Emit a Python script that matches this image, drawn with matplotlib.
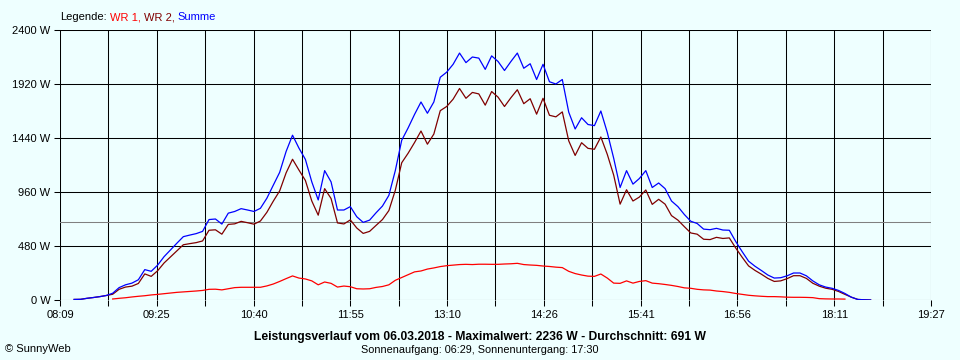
import matplotlib
matplotlib.use('Agg')
import matplotlib.pyplot as plt
import numpy as np

plt.rcParams['font.family'] = ['Liberation Sans', 'DejaVu Sans']

nan = np.nan

# Messwerte in W, alle 5 Minuten ab 08:20
start_min = 8 * 60 + 20
step_min = 5

summe = [
    5, 6, 15, 22, 30, 40, 60, 110,                                      # 08:20-08:55
    135, 150, 180, 270, 255, 310, 385, 445, 505, 563, 577, 590,         # 09
    610, 715, 720, 675, 772, 787, 812, 800, 787, 815, 904, 1020,        # 10
    1135, 1320, 1465, 1350, 1250, 1050, 889, 1150, 1050, 800, 800, 830, # 11
    740, 690, 710, 775, 835, 930, 1150, 1420, 1530, 1650, 1760, 1660,   # 12
    1760, 1980, 2025, 2095, 2195, 2110, 2160, 2150, 2050, 2170, 2120, 2040,  # 13
    2120, 2195, 2060, 2100, 1960, 2095, 1940, 1920, 1960, 1670, 1520, 1620,  # 14
    1560, 1550, 1680, 1490, 1260, 1000, 1150, 1030, 1080, 1150, 1000, 1040,  # 15
    990, 880, 830, 760, 700, 680, 630, 625, 637, 622, 620, 520,         # 16
    430, 345, 300, 262, 222, 195, 198, 215, 240, 240, 215, 170,         # 17
    135, 115, 104, 85, 58, 25, 5, 2, 0,                                 # 18:00-18:40
]

wr1 = [
    nan, nan, nan, nan, nan, nan, 9, 15,
    20, 27, 33, 38, 45, 50, 56, 62, 68, 72, 76, 80,
    85, 95, 96, 90, 100, 110, 113, 113, 113, 113, 125, 142,
    165, 190, 214, 195, 187, 170, 135, 160, 148, 115, 124, 118,
    100, 98, 100, 112, 120, 135, 175, 200, 225, 250, 258, 275,
    285, 297, 305, 310, 315, 317, 315, 318, 318, 317, 317, 320,
    322, 326, 315, 311, 308, 302, 298, 292, 288, 255, 235, 222,
    212, 210, 231, 195, 150, 148, 170, 150, 165, 172, 150, 145,
    138, 130, 120, 108, 104, 95, 90, 88, 80, 75, 68, 58,
    50, 42, 37, 33, 30, 30, 28, 25, 24, 24, 23, 21,
    12, 10, 9, 9, 8, nan, nan, nan, nan,
]

summe = np.array(summe, dtype=float)
wr1 = np.array(wr1, dtype=float)
wr2 = np.clip(summe - np.nan_to_num(wr1), 0, None)
t = start_min + step_min * np.arange(len(summe))

zeit_labels = ['08:09', '09:25', '10:40', '11:55', '13:10', '14:26', '15:41', '16:56', '18:11', '19:27']
maximalwert = 2236
durchschnitt = 691
datum = '06.03.2018'
sonnenaufgang = '06:29'
sonnenuntergang = '17:30'

x_min = 8 * 60 + 9
x_max = 19 * 60 + 27

bg = '#eeffff'
fig = plt.figure(figsize=(9.6, 3.6), dpi=100, facecolor=bg)
ax = fig.add_axes([60 / 960, 60 / 360, 871 / 960, 270 / 360], facecolor=bg)

xt = np.linspace(x_min, x_max, 19)
yt = np.arange(0, 2401, 480)
for x in xt:
    ax.axvline(x, color='black', lw=0.75, zorder=1, snap=True)
for y in yt:
    ax.axhline(y, color='black', lw=0.75, zorder=1, snap=True)
ax.axhline(durchschnitt, color='#808080', lw=0.75, zorder=1.5, snap=True)

ax.plot(t, wr1, color='#ff0000', lw=0.9, zorder=2)
ax.plot(t, wr2, color='#800000', lw=0.9, zorder=3)
ax.plot(t, summe, color='#0000ff', lw=0.9, zorder=4)

ax.set_xlim(x_min, x_max)
ax.set_ylim(0, 2400)
for s in ax.spines.values():
    s.set_visible(False)

xlab = []
for i in range(len(xt)):
    xlab.append(zeit_labels[i // 2] if i % 2 == 0 else '')
ax.set_xticks(xt)
ax.set_xticklabels(xlab)
ax.set_yticks(yt)
ax.set_yticklabels(['%d W' % v for v in yt])
ax.tick_params(axis='both', length=4, width=0.75, color='black', labelsize=8, pad=3)

fig.text(0.5, 1 - 337 / 360,
         'Leistungsverlauf vom %s - Maximalwert: %d W - Durchschnitt: %d W' % (datum, maximalwert, durchschnitt),
         ha='center', va='center', fontsize=8.7, fontweight='bold')
fig.text(0.5, 1 - 350 / 360,
         'Sonnenaufgang: %s, Sonnenuntergang: %s' % (sonnenaufgang, sonnenuntergang),
         ha='center', va='center', fontsize=7.8)
fig.text(5 / 960, 1 - 349 / 360, '© SunnyWeb', ha='left', va='center', fontsize=8)

# Legende mehrfarbig
renderer = fig.canvas.get_renderer()
x_px = 60
parts = [('Legende:', 'black'), ('WR 1,', '#ff0000'), ('WR 2,', '#800000'), ('Summe', '#0000ff')]
for txt, col in parts:
    tx = fig.text(x_px / 960, 1 - 17 / 360, txt, color=col, ha='left', va='center', fontsize=8)
    w = tx.get_window_extent(renderer).width
    x_px += w + 3

fig.savefig('out.png', dpi=100, facecolor=bg)
